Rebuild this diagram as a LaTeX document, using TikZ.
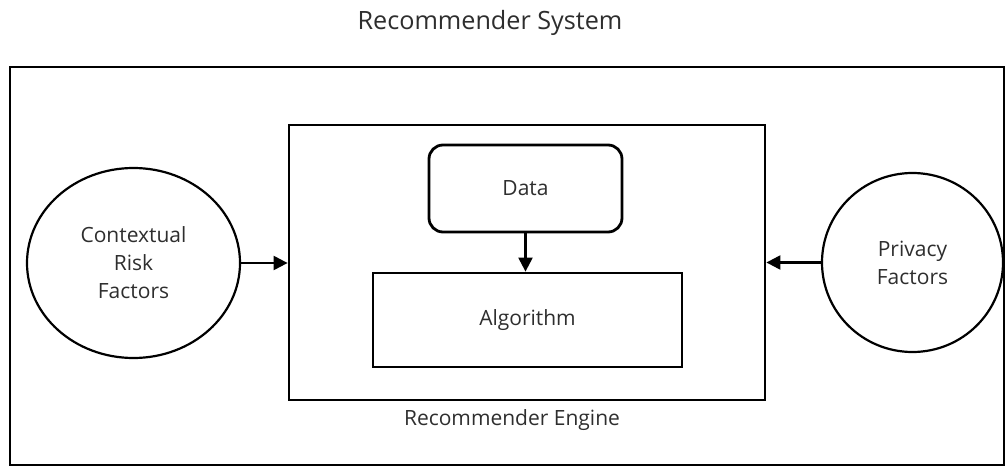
\documentclass[tikz,border=0pt]{standalone}
\usepackage{fontspec}
\setmainfont{Open Sans}
\usetikzlibrary{arrows.meta,shapes.geometric}
\begin{document}
\begin{tikzpicture}[x=1pt,y=-1pt,
  txt/.style={text=black!82, font=\fontsize{21}{28}\selectfont, align=center},
  box/.style={draw=black, line width=2.8pt, inner sep=0pt},
  roundbox/.style={box, rounded corners=14pt},
  blob/.style={draw=black, line width=2.2pt, ellipse, inner sep=0pt, txt},
  link/.style={line width=2.2pt, -{Triangle[length=14pt,width=14pt]}}]
  \useasboundingbox (0,0) rectangle (1007,468);

  % title and outer frame
  \node[txt, font=\fontsize{25.2}{28}\selectfont] (title) at (490,23) {Recommender System};
  \node[box, minimum width=994pt, minimum height=398pt] (system) at (507,266) {};

  % engine with its parts
  \node[box, minimum width=476pt, minimum height=275pt] (engine) at (527,262.5) {};
  \node[txt] (enginelbl) at (512,420) {Recommender Engine};
  \node[roundbox, minimum width=193pt, minimum height=87pt, txt] (data) at (525.5,188.5) {Data};
  \node[box, minimum width=309pt, minimum height=94pt, txt] (algo) at (527.5,320) {Algorithm};

  % external factors
  \node[blob, minimum width=213pt, minimum height=190pt] (context) at (133.5,263) {Contextual\\Risk\\Factors};
  \node[blob, minimum width=181pt, minimum height=179pt] (privacy) at (912.5,262.5) {Privacy\\Factors};

  % connectors
  \draw[link] (context.east) -- (engine.west |- context.east);
  \draw[link] (privacy.west) -- (engine.east |- privacy.west);
  \draw[link] (data.south) -- (data.south |- algo.north);
\end{tikzpicture}
\end{document}
